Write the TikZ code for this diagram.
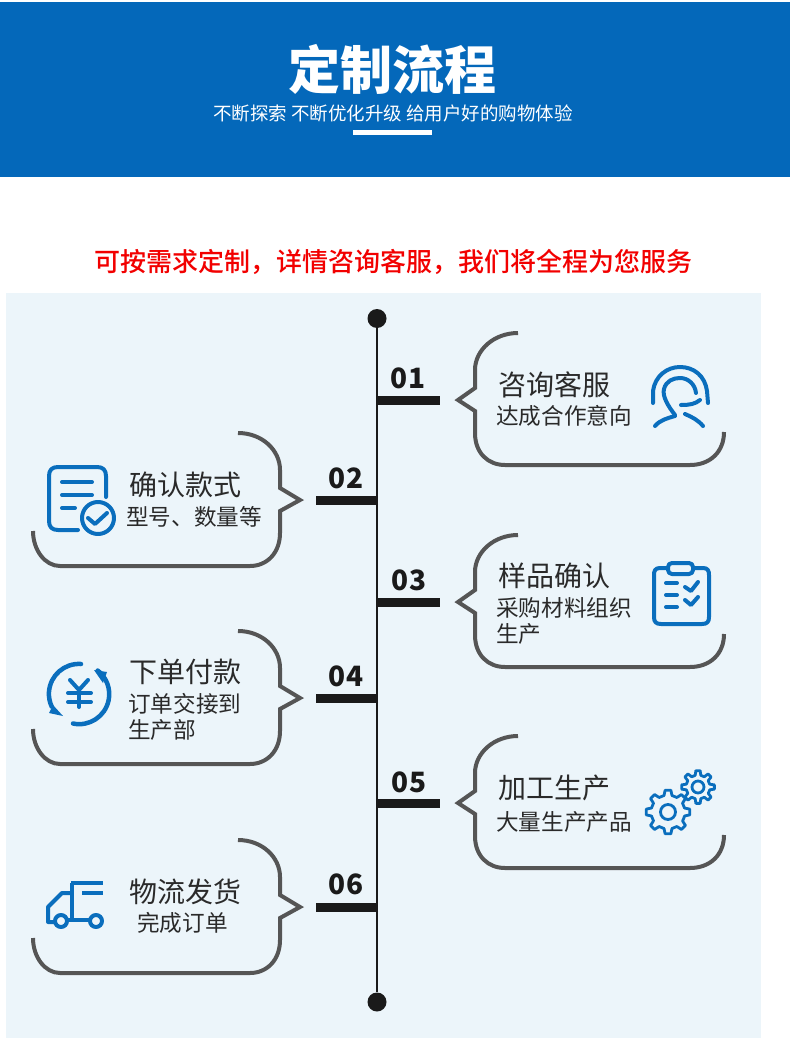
\documentclass[tikz,border=0pt]{standalone}
\usepackage{fontspec}
\setmainfont{Noto Sans CJK SC}
\newfontfamily\notefont{Noto Sans CJK SC Medium}
\usepackage{xcolor}
\usetikzlibrary{positioning}

\definecolor{headblue}{HTML}{0468BA}
\definecolor{iconblue}{HTML}{0A6EBD}
\definecolor{panelblue}{HTML}{ECF5FA}
\definecolor{bubblegray}{HTML}{555555}
\definecolor{inkgray}{HTML}{2A2A2A}
\definecolor{spineblack}{HTML}{1A1A1A}

\begin{document}
\begin{tikzpicture}[
  x=1pt, y=-1pt,
  ttl/.style={anchor=west, inner sep=0pt, text=inkgray, font=\fontsize{28}{32}\selectfont},
  sub/.style={anchor=west, inner sep=0pt, text=inkgray, align=left, font=\fontsize{22.6}{26}\selectfont},
  num/.style={inner sep=0pt, text=spineblack, font=\fontsize{28}{30}\selectfont\bfseries},
  dot/.style={circle, fill=spineblack, inner sep=0pt, minimum size=19pt},
  spine/.style={draw=spineblack, line width=2.5pt},
  tick/.style={draw=spineblack, line width=9pt},
  bub/.style={draw=bubblegray, line width=4pt},
  ico/.style={draw=iconblue, line width=4pt, line cap=round, line join=round},
  pics/rbubble/.style={code={
    \draw[bub] (60,-67) .. controls (36,-67) and (17,-50) .. (17,-30) -- (17,-12) -- (0,0)
      -- (17,11) -- (17,33) .. controls (17,53) and (30,65) .. (47,65) -- (232,65)
      .. controls (252,65) and (266,52) .. (266,32);
  }},
  pics/lbubble/.style={code={
    \draw[bub] (-62,-67) .. controls (-38,-67) and (-20,-50) .. (-20,-30) -- (-20,-12) -- (0,0)
      -- (-20,11) -- (-20,33) .. controls (-20,53) and (-33,66) .. (-50,66) -- (-240,66)
      .. controls (-255,66) and (-267,50) .. (-267,31);
  }},
  pics/cog/.style n args={3}{code={
    \draw[ico, line width=2.8pt, rotate=-22.5] (0:#1pt)
      \foreach \a in {0,45,...,315} {
        -- (\a+9:#1pt) -- (\a+15:#2pt) -- (\a+30:#2pt) -- (\a+36:#1pt)
      } -- cycle;
    \draw[ico, line width=2.8pt] (0,0) circle[radius=#3pt];
  }},
]
\useasboundingbox (0,0) rectangle (790,1043);
\fill[white] (0,0) rectangle (790,1043);

% --- Banner ---
\fill[headblue] (0,2) rectangle (790,177);
\node[inner sep=0pt, text=white, font=\fontsize{52}{56}\selectfont\bfseries] (HeadT) at (392.5,69) {定制流程};
\node[inner sep=0pt, text=white, font=\fontsize{18.5}{21}\selectfont] (HeadS) at (393,113.5) {不断探索 不断优化升级 给用户好的购物体验};
\fill[white] (353,130.5) rectangle (432,135.5);
\node[inner sep=0pt, text=red!95!black, font=\notefont\fontsize{26}{30}\selectfont] (Note) at (393,261.5) {可按需求定制，详情咨询客服，我们将全程为您服务};

% --- Panel and spine ---
\fill[panelblue] (6,293) rectangle (761,1038);
\node[dot] (Top) at (377,318.5) {};
\node[dot] (End) at (377,1002) {};
\draw[spine] (Top) -- (End);

% --- Ticks ---
\coordinate (S1) at (377,400); \coordinate (E1) at (440,400);
\coordinate (S2) at (378,500); \coordinate (E2) at (316,500);
\coordinate (S3) at (377,602); \coordinate (E3) at (440,602);
\coordinate (S4) at (378,698); \coordinate (E4) at (316,698);
\coordinate (S5) at (377,803); \coordinate (E5) at (440,803);
\coordinate (S6) at (378,907); \coordinate (E6) at (316,907);
\draw[tick] (S1) -- (E1);
\draw[tick] (S2) -- (E2);
\draw[tick] (S3) -- (E3);
\draw[tick] (S4) -- (E4);
\draw[tick] (S5) -- (E5);
\draw[tick] (S6) -- (E6);
\node[num] (N1) at (408,378) {01};
\node[num] (N2) at (346,478) {02};
\node[num] (N3) at (409,580) {03};
\node[num] (N4) at (346,676) {04};
\node[num] (N5) at (409,782) {05};
\node[num] (N6) at (346,884) {06};

% --- Bubbles ---
\pic at (458,400) {rbubble};
\pic at (300,500) {lbubble};
\pic at (458,602) {rbubble};
\pic at (300,698) {lbubble};
\pic at (458,803) {rbubble};
\pic at (300,907) {lbubble};

% --- Texts ---
\node[ttl] (T1) at (498,385) {咨询客服};
\node[sub] (B1) at (496,416) {达成合作意向};
\node[ttl] (T2) at (129,485) {确认款式};
\node[sub] (B2) at (126,517) {型号、数量等};
\node[ttl] (T3) at (498,576) {样品确认};
\node[sub] (B3) at (496,620.5) {采购材料组织\\生产};
\node[ttl] (T4) at (129,672) {下单付款};
\node[sub] (B4) at (128,717) {订单交接到\\生产部};
\node[ttl] (T5) at (498,788) {加工生产};
\node[sub] (B5) at (496,822) {大量生产产品};
\node[ttl] (T6) at (129,892) {物流发货};
\node[sub] (B6) at (137,923) {完成订单};

% --- Icon 01: headset ---
\draw[ico] (653,403) -- (653,391) .. controls (655,376) and (667,367) .. (680,367)
  .. controls (694,367) and (705,376) .. (707,391) -- (708,403);
\draw[ico] (675,415) .. controls (668,406) and (662,396) .. (664,389)
  .. controls (666,381) and (673,378) .. (680,378) .. controls (688,378) and (695,384) .. (696,393);
\draw[ico] (700,400) .. controls (695,404) and (690,405) .. (681,405);
\draw[ico] (655,426) .. controls (660,420) and (668,418) .. (675,416);
\draw[ico] (685,414) .. controls (692,417) and (698,420) .. (703,426);

% --- Icon 02: document ---
\draw[ico] (78,530) -- (58,530) .. controls (52,530) and (49,527) .. (49,521) -- (49,476)
  .. controls (49,470) and (52,467) .. (58,467) -- (97,467) .. controls (103,467) and (106,470) .. (106,476) -- (106,497);
\draw[ico] (62,482) -- (92,482);
\draw[ico] (62,495) -- (92,495);
\draw[ico] (62,508) -- (75,508);
\draw[ico] (98,518) circle[radius=16pt];
\draw[ico] (88,518) -- (95,524) -- (107,513);

% --- Icon 03: clipboard ---
\draw[ico] (667,568) -- (660,568) .. controls (655,568) and (654,571) .. (654,575) -- (654,617)
  .. controls (654,622) and (656,624) .. (661,624) -- (702,624) .. controls (707,624) and (709,622) .. (709,617)
  -- (709,575) .. controls (709,571) and (708,568) .. (703,568) -- (694,568);
\draw[ico, rounded corners=4pt] (668,563) rectangle (693,574);
\draw[ico] (666,583) -- (677,583);
\draw[ico] (666,595) -- (677,595);
\draw[ico] (666,607) -- (677,607);
\draw[ico] (685,587) -- (691,591) -- (698,582);
\draw[ico] (685,600) -- (691,605) -- (698,597);

% --- Icon 04: yen cycle ---
\draw[ico, line width=4.5pt] (81,664) arc[start angle=86, end angle=205, radius=30pt];
\draw[ico, line width=4.5pt] (73,723.5) arc[start angle=-102, end angle=52, radius=30pt];
\fill[iconblue] (49,713) -- (53,705) -- (63,716) -- cycle;
\fill[iconblue] (94,670) -- (107,672) -- (103,683) -- cycle;
\draw[ico] (70,680) -- (79,690) -- (88,680);
\draw[ico] (68,693) -- (91,693);
\draw[ico] (68,702) -- (91,702);
\draw[ico] (79,690) -- (79,707);

% --- Icon 05: gears ---
\pic at (668,812) {cog={17}{22}{7.5}};
\pic at (698,787) {cog={12}{16.5}{6}};

% --- Icon 06: truck ---
\draw[ico, line cap=butt] (71,883) -- (103,883);
\draw[ico, line cap=butt] (82,893) -- (103,893);
\draw[ico, line cap=butt] (72,883) -- (72,920);
\draw[ico, line cap=butt] (72,893) -- (62,893) -- (48,907) -- (48,922) -- (55,922);
\draw[ico] (61,921) circle[radius=6pt];
\draw[ico] (96,921) circle[radius=6pt];
\draw[ico, line cap=butt] (67,920) -- (90,920);
\end{tikzpicture}
\end{document}
